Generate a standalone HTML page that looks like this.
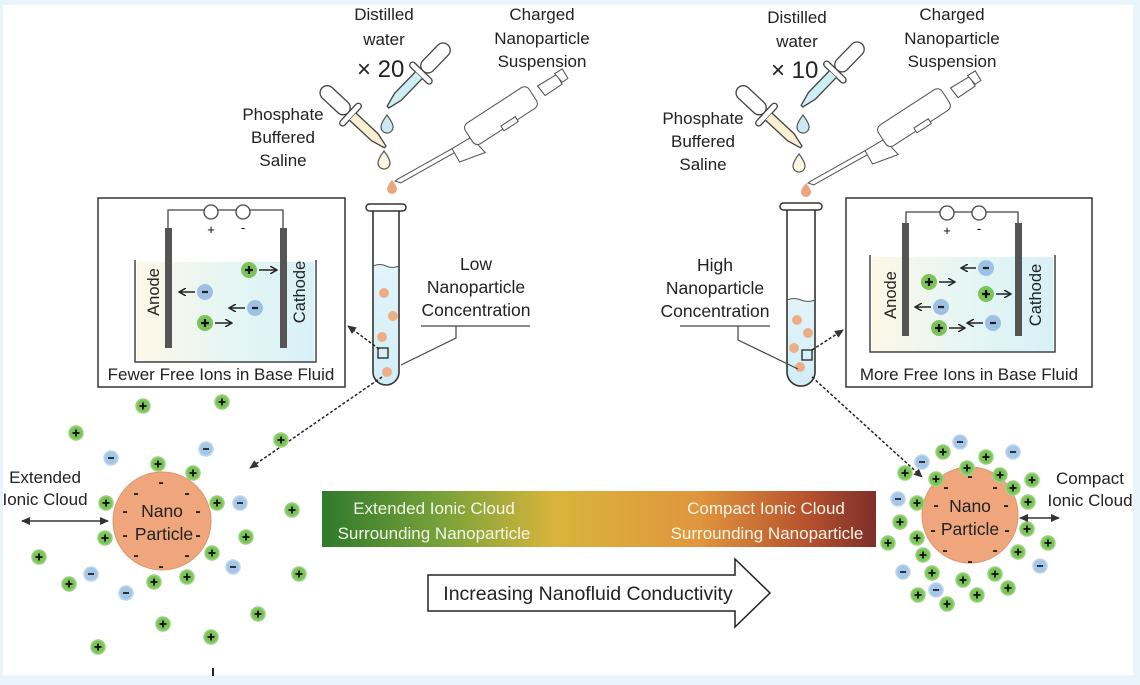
<!DOCTYPE html>
<html><head><meta charset="utf-8"><style>
html,body{margin:0;padding:0;background:#eaf5fb;}
svg{display:block;font-family:"Liberation Sans",sans-serif;}
</style></head><body>
<svg width="1140" height="685" viewBox="0 0 1140 685" xmlns="http://www.w3.org/2000/svg">
<defs>
<linearGradient id="bar" x1="0" x2="1" y1="0" y2="0">
<stop offset="0" stop-color="#2f7a2c"/><stop offset="0.22" stop-color="#7aa23a"/><stop offset="0.42" stop-color="#d9b43c"/><stop offset="0.68" stop-color="#e0963e"/><stop offset="0.88" stop-color="#b5502e"/><stop offset="1" stop-color="#7d2f2a"/>
</linearGradient>
<linearGradient id="fluid" x1="0" x2="1"><stop offset="0" stop-color="#fdf7e6"/><stop offset="0.5" stop-color="#e6f6f4"/><stop offset="1" stop-color="#d8f1f7"/></linearGradient>
<linearGradient id="tube" x1="0" x2="0" y1="0" y2="1"><stop offset="0" stop-color="#e2f4fa"/><stop offset="1" stop-color="#d2eef7"/></linearGradient>
<g id="pl"><circle r="7" fill="#7cc35a" stroke="#9ad27e" stroke-width="1.5"/><path d="M-3.5 0H3.5M0 -3.5V3.5" stroke="#111" stroke-width="1.8"/></g>
<g id="mi"><circle r="7" fill="#a4c6e8" stroke="#bcd6ef" stroke-width="1.5"/><path d="M-3 0H3" stroke="#222" stroke-width="1.8"/></g>
<g id="plb"><circle r="8" fill="#7cc35a"/><path d="M-4 0H4M0 -4V4" stroke="#111" stroke-width="2.2"/></g>
<g id="mib"><circle r="8" fill="#9ec0e4"/><path d="M-3 0H3" stroke="#222" stroke-width="2.2"/></g>
<marker id="ah" markerWidth="8" markerHeight="8" refX="6" refY="4" orient="auto" markerUnits="userSpaceOnUse"><path d="M0 0L7 4L0 8" fill="none" stroke="#222" stroke-width="1.5"/></marker>
<marker id="ahs" markerWidth="10" markerHeight="10" refX="8" refY="5" orient="auto-start-reverse" markerUnits="userSpaceOnUse"><path d="M0 1L9 5L0 9z" fill="#333"/></marker>
<g id="dropper"><rect x="-6" y="0" width="12" height="30" rx="6" fill="#fff" stroke="#444" stroke-width="1.1"/><rect x="-12" y="30" width="24" height="5" rx="2.5" fill="#fff" stroke="#444" stroke-width="1.1"/><path d="M-4 35V60L-1 72H1L4 60V35" fill="var(--c)" stroke="#444" stroke-width="1.1"/></g>
<g id="pipette" fill="#fff" stroke="#555" stroke-width="1.1"><path d="M0 0L3 -2L60 -34L63 -30L6 2Z"/><path d="M60 -34L80 -46L95 -30L68 -20Z"/><rect x="78" y="-60" width="80" height="26" rx="6" transform="rotate(-33 78 -47)"/><rect x="112" y="-58" width="18" height="6" transform="rotate(-33 112 -57)"/><path d="M150 -100L170 -112L176 -102L158 -90Z"/><path d="M168 -113L176 -118L182 -108L176 -104Z"/></g>
</defs>
<rect x="3" y="5" width="1130" height="670" fill="#fff"/>

<!-- top left labels -->
<g font-size="17" fill="#222" text-anchor="middle">
<text x="384" y="20">Distilled</text><text x="384" y="45">water</text>
<text x="542" y="20">Charged</text><text x="542" y="44">Nanoparticle</text><text x="542" y="67">Suspension</text>
<text x="283" y="120">Phosphate</text><text x="283" y="143">Buffered</text><text x="283" y="166">Saline</text>
<text x="797" y="23">Distilled</text><text x="797" y="47">water</text>
<text x="952" y="20">Charged</text><text x="952" y="44">Nanoparticle</text><text x="952" y="67">Suspension</text>
<text x="703" y="124">Phosphate</text><text x="703" y="147">Buffered</text><text x="703" y="170">Saline</text>
</g>
<text x="357" y="77" font-size="24" fill="#222">× 20</text>
<text x="771" y="78" font-size="24" fill="#222">× 10</text>

<!-- droppers -->
<use href="#dropper" transform="translate(322,88) rotate(-47) scale(1.2)" style="--c:#fbf0d2"/>
<use href="#dropper" transform="translate(448,45) rotate(44) scale(1.2)" style="--c:#cdeef3"/>
<use href="#dropper" transform="translate(738,88) rotate(-47) scale(1.2)" style="--c:#fbf0d2"/>
<use href="#dropper" transform="translate(862,44) rotate(44) scale(1.2)" style="--c:#cdeef3"/>
<g stroke="#555" stroke-width="1.2">
<path d="M387 115q-6 8 -6 12a6 6 0 0 0 12 0q0-4-6-12z" fill="#cbe9f3"/>
<path d="M384 151q-6 8 -6 12a6 6 0 0 0 12 0q0-4-6-12z" fill="#fdf6e4"/>
<path d="M803 115q-6 8 -6 12a6 6 0 0 0 12 0q0-4-6-12z" fill="#cbe9f3"/>
<path d="M799 154q-6 8 -6 12a6 6 0 0 0 12 0q0-4-6-12z" fill="#fdf6e4"/>
</g>
<path d="M392 180q-5 6 -5 9a5 5 0 0 0 10 0q0-3-5-9z" fill="#eba57d"/>
<path d="M806 183q-5 6 -5 9a5 5 0 0 0 10 0q0-3-5-9z" fill="#eba57d"/>
<use href="#pipette" transform="translate(395,181) scale(0.95)"/>
<use href="#pipette" transform="translate(808,183) scale(0.95)"/>

<!-- left box -->
<rect x="98" y="198" width="247" height="189" fill="#fff" stroke="#333" stroke-width="1.5"/>
<rect x="137" y="262" width="177" height="100" fill="url(#fluid)"/>
<path d="M135 260V362H316V260" fill="none" stroke="#444" stroke-width="1.5"/>
<path d="M168 228V210H204M218 210H236M250 210H283V228" fill="none" stroke="#444" stroke-width="1.3"/>
<circle cx="211" cy="212" r="7" fill="#fff" stroke="#444" stroke-width="1.3"/><circle cx="243" cy="212" r="7" fill="#fff" stroke="#444" stroke-width="1.3"/>
<text x="211" y="234" font-size="13" text-anchor="middle">+</text><text x="243" y="232" font-size="13" text-anchor="middle">-</text>
<rect x="165" y="228" width="7" height="120" fill="#555"/><rect x="280" y="228" width="7" height="120" fill="#555"/>
<text transform="translate(159,292) rotate(-90)" font-size="16.5" text-anchor="middle" fill="#222">Anode</text>
<text transform="translate(305,292) rotate(-90)" font-size="16.5" text-anchor="middle" fill="#222">Cathode</text>
<use href="#plb" x="249" y="270"/><path d="M259 270H276" stroke="#222" stroke-width="1.5" marker-end="url(#ah)"/>
<use href="#mib" x="205" y="292"/><path d="M195 292H180" stroke="#222" stroke-width="1.5" marker-end="url(#ah)"/>
<use href="#mib" x="255" y="308"/><path d="M245 308H230" stroke="#222" stroke-width="1.5" marker-end="url(#ah)"/>
<use href="#plb" x="205" y="323"/><path d="M215 323H231" stroke="#222" stroke-width="1.5" marker-end="url(#ah)"/>
<text x="221" y="380" font-size="17" text-anchor="middle" fill="#222">Fewer Free Ions in Base Fluid</text>

<!-- right box -->
<rect x="846" y="198" width="246" height="189" fill="#fff" stroke="#333" stroke-width="1.5"/>
<rect x="872" y="257" width="181" height="95" fill="url(#fluid)"/>
<path d="M870 255V352H1055V255" fill="none" stroke="#444" stroke-width="1.5"/>
<path d="M906 223V212H940M954 212H972M986 212H1018V223" fill="none" stroke="#444" stroke-width="1.3"/>
<circle cx="947" cy="213" r="7" fill="#fff" stroke="#444" stroke-width="1.3"/><circle cx="979" cy="213" r="7" fill="#fff" stroke="#444" stroke-width="1.3"/>
<text x="947" y="235" font-size="13" text-anchor="middle">+</text><text x="979" y="233" font-size="13" text-anchor="middle">-</text>
<rect x="902" y="223" width="7" height="113" fill="#555"/><rect x="1015" y="223" width="7" height="113" fill="#555"/>
<text transform="translate(896,295) rotate(-90)" font-size="16.5" text-anchor="middle" fill="#222">Anode</text>
<text transform="translate(1041,295) rotate(-90)" font-size="16.5" text-anchor="middle" fill="#222">Cathode</text>
<use href="#mib" x="986" y="268"/><path d="M976 268H962" stroke="#222" stroke-width="1.5" marker-end="url(#ah)"/>
<use href="#plb" x="929" y="282"/><path d="M939 282H954" stroke="#222" stroke-width="1.5" marker-end="url(#ah)"/>
<use href="#plb" x="986" y="294"/><path d="M996 294H1010" stroke="#222" stroke-width="1.5" marker-end="url(#ah)"/>
<use href="#mib" x="941" y="307"/><path d="M931 307H916" stroke="#222" stroke-width="1.5" marker-end="url(#ah)"/>
<use href="#mib" x="993" y="323"/><path d="M983 323H968" stroke="#222" stroke-width="1.5" marker-end="url(#ah)"/>
<use href="#plb" x="939" y="328"/><path d="M949 328H964" stroke="#222" stroke-width="1.5" marker-end="url(#ah)"/>
<text x="969" y="380" font-size="17" text-anchor="middle" fill="#222">More Free Ions in Base Fluid</text>

<!-- tubes -->
<path d="M373 266q7-3 13 0t13 0V372a13 13 0 0 1 -26 0z" fill="url(#tube)"/>
<path d="M373 209V372a13 13 0 0 0 26 0V209" fill="none" stroke="#333" stroke-width="1.6"/>
<rect x="366" y="204" width="40" height="7" rx="3.5" fill="#fff" stroke="#333" stroke-width="1.5"/>
<path d="M373 266q7-3 13 0t13 0" fill="none" stroke="#555" stroke-width="1"/>
<g fill="#eeae85"><circle cx="384" cy="293" r="5"/><circle cx="393" cy="316" r="5"/><circle cx="382" cy="337" r="5"/><circle cx="387" cy="372" r="5"/></g>
<rect x="378" y="348" width="10" height="10" fill="none" stroke="#222" stroke-width="1.3"/>

<path d="M787 300q7-3 14 0t14 0V372a14 14 0 0 1 -28 0z" fill="url(#tube)"/>
<path d="M787 209V372a14 14 0 0 0 28 0V209" fill="none" stroke="#333" stroke-width="1.6"/>
<rect x="780" y="203" width="42" height="7" rx="3.5" fill="#fff" stroke="#333" stroke-width="1.5"/>
<path d="M787 300q7-3 14 0t14 0" fill="none" stroke="#555" stroke-width="1"/>
<g fill="#eeae85"><circle cx="797" cy="320" r="5"/><circle cx="808" cy="333" r="5"/><circle cx="794" cy="348" r="5"/><circle cx="800" cy="367" r="5"/></g>
<rect x="802" y="350" width="10" height="10" fill="none" stroke="#222" stroke-width="1.3"/>

<!-- concentration labels -->
<g font-size="17.5" fill="#222" text-anchor="middle">
<text x="476" y="270">Low</text><text x="476" y="293">Nanoparticle</text><text x="476" y="316">Concentration</text>
<text x="715" y="271">High</text><text x="715" y="294">Nanoparticle</text><text x="715" y="317">Concentration</text>
</g>
<path d="M421 326H530M456 326V338L401 365" fill="none" stroke="#444" stroke-width="1.2"/>
<path d="M680 326H770M738 326V340L798 369" fill="none" stroke="#444" stroke-width="1.2"/>

<!-- dashed connectors -->
<g stroke="#222" stroke-width="1.5" stroke-dasharray="3,2" fill="none">
<path d="M379 349L348 326" marker-end="url(#ahs)"/>
<path d="M382 377L250 468" marker-end="url(#ahs)"/>
<path d="M812 350L843 330" marker-end="url(#ahs)"/>
<path d="M812 377L922 477" marker-end="url(#ahs)"/>
</g>

<!-- left particle -->
<circle cx="162" cy="521" r="49" fill="#efa67c" stroke="#e0946a" stroke-width="1"/>
<text x="162" y="517" font-size="17.5" text-anchor="middle" fill="#222">Nano</text>
<text x="164" y="540" font-size="17.5" text-anchor="middle" fill="#222">Particle</text>
<g fill="#222" font-size="16" font-weight="bold" text-anchor="middle">
<text x="161" y="487">-</text><text x="136" y="498">-</text><text x="187" y="498">-</text><text x="125" y="516">-</text><text x="198" y="516">-</text><text x="125" y="540">-</text><text x="198" y="540">-</text><text x="136" y="560">-</text><text x="187" y="560">-</text><text x="161" y="571">-</text>
</g>
<g>
<use href="#pl" x="143" y="406"/><use href="#pl" x="222" y="402"/><use href="#pl" x="76" y="433"/><use href="#pl" x="281" y="440"/><use href="#pl" x="158" y="464"/><use href="#pl" x="193" y="473"/><use href="#pl" x="106" y="503"/><use href="#pl" x="217" y="503"/><use href="#pl" x="292" y="510"/><use href="#pl" x="105" y="538"/><use href="#pl" x="246" y="537"/><use href="#pl" x="212" y="553"/><use href="#pl" x="39" y="557"/><use href="#pl" x="69" y="584"/><use href="#pl" x="154" y="582"/><use href="#pl" x="187" y="577"/><use href="#pl" x="299" y="574"/><use href="#pl" x="258" y="614"/><use href="#pl" x="163" y="624"/><use href="#pl" x="211" y="637"/><use href="#pl" x="98" y="647"/>
<use href="#mi" x="111" y="458"/><use href="#mi" x="206" y="449"/><use href="#mi" x="240" y="503"/><use href="#mi" x="91" y="574"/><use href="#mi" x="233" y="567"/><use href="#mi" x="126" y="593"/>
</g>
<text x="45" y="483" font-size="17" text-anchor="middle" fill="#222">Extended</text>
<text x="45" y="505" font-size="17" text-anchor="middle" fill="#222">Ionic Cloud</text>
<path d="M22 521H108" stroke="#333" stroke-width="1.5" marker-end="url(#ahs)" marker-start="url(#ahs)"/>

<!-- right particle -->
<circle cx="970" cy="515" r="48" fill="#efa67c" stroke="#e0946a" stroke-width="1"/>
<text x="970" y="512" font-size="17.5" text-anchor="middle" fill="#222">Nano</text>
<text x="970" y="535" font-size="17.5" text-anchor="middle" fill="#222">Particle</text>
<g fill="#222" font-size="16" font-weight="bold" text-anchor="middle">
<text x="970" y="481">-</text><text x="946" y="492">-</text><text x="995" y="492">-</text><text x="936" y="510">-</text><text x="1006" y="510">-</text><text x="933" y="535">-</text><text x="1007" y="535">-</text><text x="945" y="555">-</text><text x="995" y="555">-</text><text x="970" y="566">-</text>
</g>
<g>
<use href="#pl" x="943" y="452"/><use href="#pl" x="986" y="457"/><use href="#pl" x="967" y="468"/><use href="#pl" x="905" y="473"/><use href="#pl" x="936" y="479"/><use href="#pl" x="1000" y="475"/><use href="#pl" x="1032" y="480"/><use href="#pl" x="1013" y="488"/><use href="#pl" x="1028" y="502"/><use href="#pl" x="917" y="503"/><use href="#pl" x="900" y="522"/><use href="#pl" x="1027" y="529"/><use href="#pl" x="917" y="538"/><use href="#pl" x="888" y="543"/><use href="#pl" x="1048" y="543"/><use href="#pl" x="923" y="555"/><use href="#pl" x="1018" y="552"/><use href="#pl" x="932" y="573"/><use href="#pl" x="995" y="574"/><use href="#pl" x="963" y="580"/><use href="#pl" x="1008" y="588"/><use href="#pl" x="918" y="595"/><use href="#pl" x="977" y="595"/><use href="#pl" x="947" y="604"/>
<use href="#mi" x="960" y="442"/><use href="#mi" x="922" y="462"/><use href="#mi" x="1013" y="452"/><use href="#mi" x="898" y="499"/><use href="#mi" x="1040" y="566"/><use href="#mi" x="903" y="572"/><use href="#mi" x="936" y="590"/>
</g>
<text x="1090" y="484" font-size="17" text-anchor="middle" fill="#222">Compact</text>
<text x="1090" y="506" font-size="17" text-anchor="middle" fill="#222">Ionic Cloud</text>
<path d="M1020 518H1059" stroke="#333" stroke-width="1.5" marker-end="url(#ahs)" marker-start="url(#ahs)"/>

<!-- gradient bar -->
<rect x="322" y="491" width="554" height="56" fill="url(#bar)"/>
<g font-size="17" fill="#f2f6e6" text-anchor="middle">
<text x="434" y="514">Extended Ionic Cloud</text><text x="434" y="539">Surrounding Nanoparticle</text>
<text x="766" y="514">Compact Ionic Cloud</text><text x="767" y="539">Surrounding Nanoparticle</text>
</g>

<!-- big arrow -->
<path d="M428 575H735V559L770 593L735 627V611H428Z" fill="#fff" stroke="#222" stroke-width="1.5"/>
<text x="588" y="600" font-size="19.5" text-anchor="middle" fill="#222">Increasing Nanofluid Conductivity</text>

<path d="M213 668V676" stroke="#222" stroke-width="2"/>
</svg>
</body></html>
